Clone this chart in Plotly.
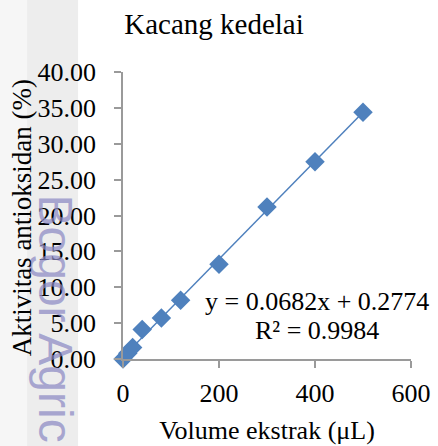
import plotly.graph_objects as go

# Extract volume (µL) and measured antioxidant activity (%)
volume = [0, 10, 20, 40, 80, 120, 200, 300, 400, 500]
activity = [0.0, 0.8, 1.6, 4.1, 5.7, 8.2, 13.2, 21.2, 27.5, 34.4]

# Linear regression reported for the series
slope = 0.0682
intercept = 0.2774
r_squared = 0.9984

x_ticks = [0, 200, 400, 600]
y_ticks = [0, 5, 10, 15, 20, 25, 30, 35, 40]
y_tick_labels = [f"{v:.2f}" for v in y_ticks]

SERIF = "Liberation Serif, Times New Roman, serif"
BLUE = "#4f81bd"
AXIS_GREY = "#9a9a9a"

trend_x = [min(volume), max(volume)]
trend_y = [slope * x + intercept for x in trend_x]

fig = go.Figure()

fig.add_trace(go.Scatter(
    x=trend_x, y=trend_y, mode="lines",
    line=dict(color=BLUE, width=1.5),
    hoverinfo="skip", showlegend=False,
))
fig.add_trace(go.Scatter(
    x=volume, y=activity, mode="markers",
    marker=dict(symbol="diamond", size=15, color=BLUE, line=dict(width=0)),
    cliponaxis=False, showlegend=False,
))

# Faint watermark band in the left margin
fig.add_shape(type="rect", xref="paper", yref="paper",
              x0=-0.43, x1=-0.333, y0=-0.31, y1=1.26,
              fillcolor="#f6f6f6", line=dict(width=0), layer="below")
fig.add_shape(type="rect", xref="paper", yref="paper",
              x0=-0.333, x1=-0.156, y0=-0.31, y1=1.26,
              fillcolor="#ededed", line=dict(width=0), layer="below")
fig.add_annotation(
    text="Bogor Agric", textangle=90, showarrow=False,
    xref="paper", yref="paper", x=-0.236, y=0.58,
    xanchor="center", yanchor="top",
    font=dict(family="Liberation Sans, Arial, sans-serif", size=48,
              color="rgba(140,138,196,0.72)"),
)

# Y-axis title
fig.add_annotation(
    text="Aktivitas antioksidan (%)", textangle=-90, showarrow=False,
    xref="paper", yref="paper", x=(22 - 123) / 288, y=0.49,
    xanchor="center", yanchor="middle",
    font=dict(family=SERIF, size=27, color="black"),
)

# Regression equation and R²
fig.add_annotation(
    text=f"y = {slope:.4f}x + {intercept:.4f}", showarrow=False,
    xref="paper", yref="paper", x=0.674, y=0.2,
    xanchor="center", yanchor="middle",
    font=dict(family=SERIF, size=26, color="black"),
)
fig.add_annotation(
    text=f"R² = {r_squared:.4f}", showarrow=False,
    xref="paper", yref="paper", x=0.674, y=0.0976,
    xanchor="center", yanchor="middle",
    font=dict(family=SERIF, size=26, color="black"),
)

fig.update_layout(
    width=438, height=446,
    margin=dict(l=123, r=27, t=72, b=87, autoexpand=False),
    paper_bgcolor="white", plot_bgcolor="white",
    font=dict(family=SERIF, size=26, color="black"),
    title=dict(
        text="Kacang kedelai", font=dict(family=SERIF, size=29, color="black"),
        xref="container", yref="container", x=214 / 438, y=1 - 24 / 446,
        xanchor="center", yanchor="middle",
    ),
    xaxis=dict(
        range=[0, 600], tickvals=x_ticks, ticktext=[str(v) for v in x_ticks],
        showline=True, linecolor=AXIS_GREY, linewidth=1.5,
        ticks="outside", ticklen=7, tickcolor=AXIS_GREY, tickwidth=1.5,
        showgrid=False, zeroline=False, ticklabelstandoff=3, automargin=False,
        title=dict(text="Volume ekstrak (μL)", standoff=14,
                   font=dict(family=SERIF, size=26)),
    ),
    yaxis=dict(
        range=[0, 40], tickvals=y_ticks, ticktext=y_tick_labels,
        showline=True, linecolor=AXIS_GREY, linewidth=1.5,
        ticks="outside", ticklen=7, tickcolor=AXIS_GREY, tickwidth=1.5,
        showgrid=False, zeroline=False, ticklabelstandoff=13, automargin=False,
    ),
)

fig.write_html("out.html")
